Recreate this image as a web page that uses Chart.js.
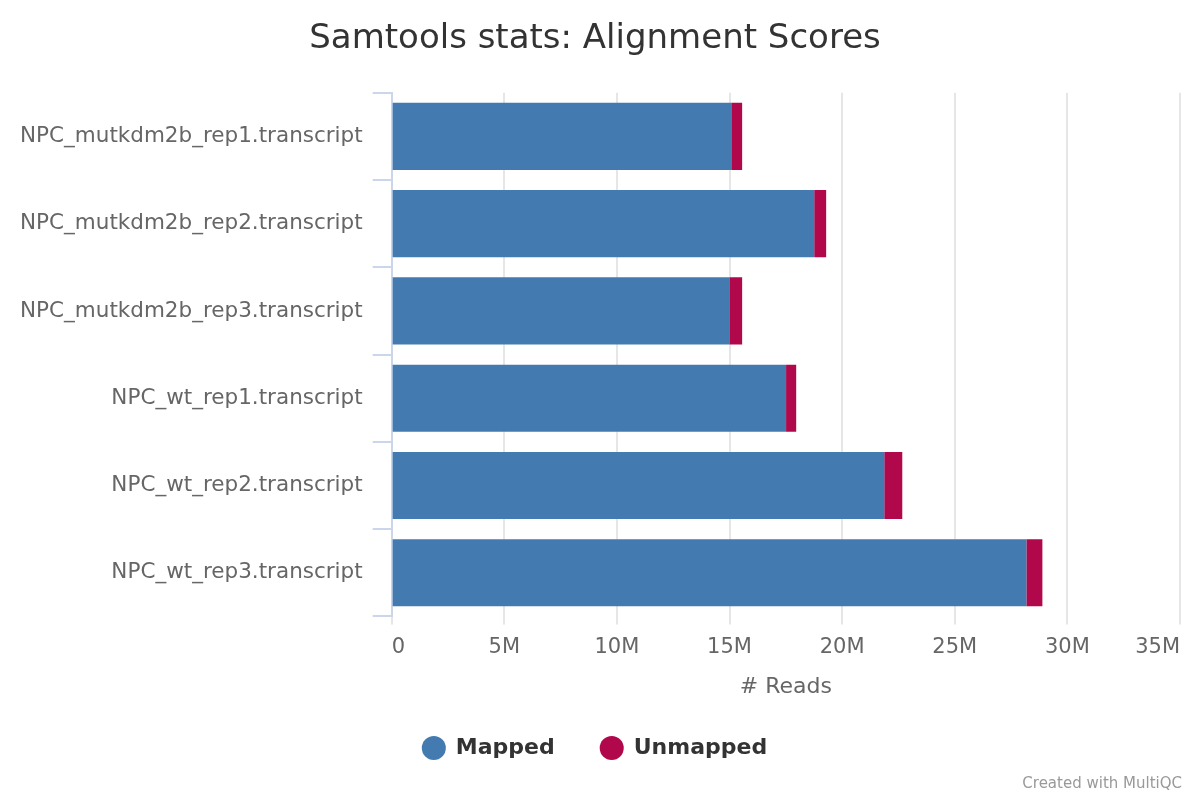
<!DOCTYPE html>
<html>
<head>
<meta charset="utf-8">
<script src="https://cdn.jsdelivr.net/npm/chart.js@4/dist/chart.umd.min.js"></script>
<style>
  html, body { margin: 0; padding: 0; background: #fff; }
  #wrap { position: relative; width: 1200px; height: 800px; }
  #credits { position: absolute; right: 18px; bottom: 8px; font: 15px "DejaVu Sans", sans-serif; color: #999; }
</style>
</head>
<body>
<div id="wrap">
  <canvas id="chart" width="1200" height="800"></canvas>
  <div id="credits">Created with MultiQC</div>
</div>
<script>
// --- Data (millions of reads) ---
const samples = [
    'NPC_mutkdm2b_rep1.transcript',
    'NPC_mutkdm2b_rep2.transcript',
    'NPC_mutkdm2b_rep3.transcript',
    'NPC_wt_rep1.transcript',
    'NPC_wt_rep2.transcript',
    'NPC_wt_rep3.transcript'
];
const mappedM = [15.11, 18.76, 15.02, 17.51, 21.87, 28.18];
const unmappedM = [0.45, 0.53, 0.54, 0.45, 0.80, 0.71];
const xTicks = [0, 5, 10, 15, 20, 25, 30, 35];

const FONT = '"DejaVu Sans", sans-serif';
const toReads = arr => arr.map(v => v * 1e6);

new Chart(document.getElementById('chart'), {
    type: 'bar',
    data: {
        labels: samples,
        datasets: [
            { label: 'Mapped', data: toReads(mappedM), backgroundColor: '#437bb1' },
            { label: 'Unmapped', data: toReads(unmappedM), backgroundColor: '#b1084c' }
        ]
    },
    options: {
        indexAxis: 'y',
        responsive: false,
        animation: false,
        categoryPercentage: 1,
        barPercentage: 0.77,
        layout: { padding: { left: 10, right: 20, top: 0, bottom: 31 } },
        scales: {
            x: {
                stacked: true,
                min: 0,
                max: xTicks[xTicks.length - 1] * 1e6,
                afterBuildTicks: axis => { axis.ticks = xTicks.map(v => ({ value: v * 1e6 })); },
                ticks: {
                    callback: v => v === 0 ? '0' : (v / 1e6) + 'M',
                    color: '#666',
                    font: { family: FONT, size: 21 },
                    padding: 11,
                    align: 'inner',
                    maxRotation: 0
                },
                grid: { color: '#e6e6e6', lineWidth: 2, tickLength: 8 },
                border: { display: false },
                title: {
                    display: true, text: '# Reads', color: '#666',
                    font: { family: FONT, size: 22 }, padding: { top: 2, bottom: -9 }
                }
            },
            y: {
                stacked: true,
                ticks: { color: '#666', font: { family: FONT, size: 21.5 }, padding: 10 },
                grid: { offset: true, drawOnChartArea: false, color: '#ccd6eb', lineWidth: 2, tickLength: 19 },
                border: { display: true, color: '#ccd6eb', width: 2 }
            }
        },
        plugins: {
            title: {
                display: true,
                text: 'Samtools stats: Alignment Scores',
                color: '#333',
                font: { family: FONT, size: 34, weight: 'normal' },
                padding: { top: 19, bottom: 33 }
            },
            legend: {
                position: 'bottom',
                labels: {
                    usePointStyle: true, pointStyle: 'circle',
                    boxWidth: 22, boxHeight: 17,
                    color: '#333', padding: 46,
                    font: { family: FONT, size: 22, weight: 'bold' }
                }
            },
            tooltip: { enabled: false }
        }
    }
});
</script>
</body>
</html>
